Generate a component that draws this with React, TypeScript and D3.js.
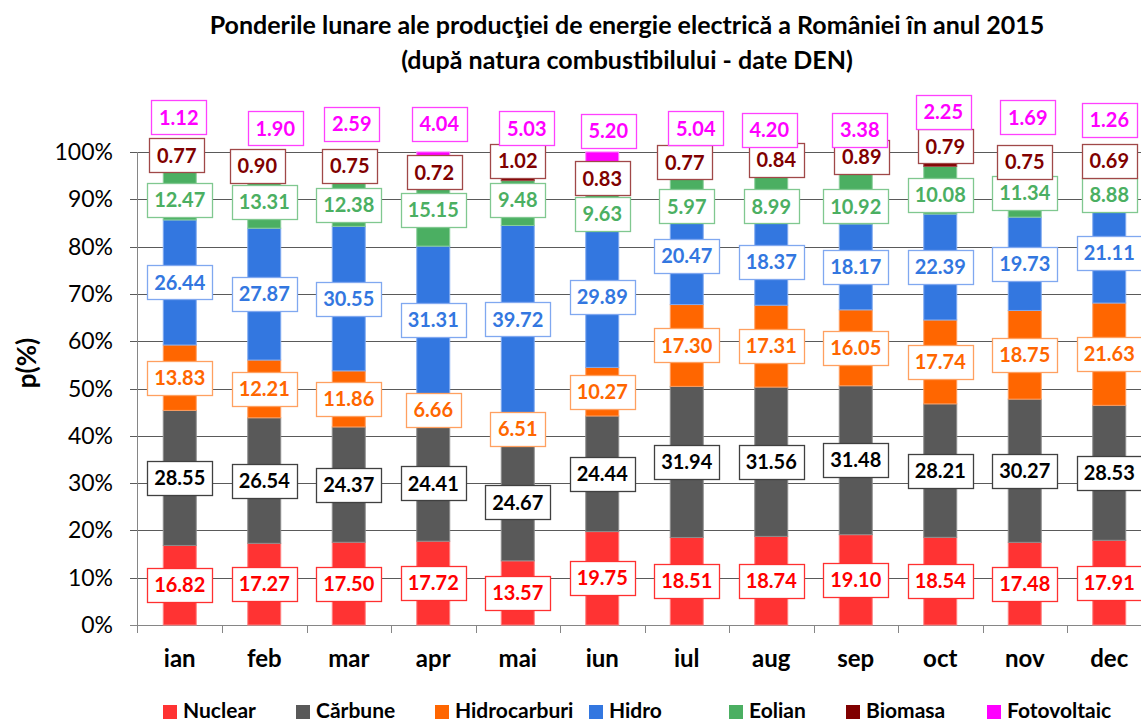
import React from "react";
import * as d3 from "d3";

const months = ["ian", "feb", "mar", "apr", "mai", "iun", "iul", "aug", "sep", "oct", "nov", "dec"];
const nuclear = [16.82, 17.27, 17.5, 17.72, 13.57, 19.75, 18.51, 18.74, 19.1, 18.54, 17.48, 17.91];
const carbune = [28.55, 26.54, 24.37, 24.41, 24.67, 24.44, 31.94, 31.56, 31.48, 28.21, 30.27, 28.53];
const hidrocarburi = [13.83, 12.21, 11.86, 6.66, 6.51, 10.27, 17.3, 17.31, 16.05, 17.74, 18.75, 21.63];
const hidro = [26.44, 27.87, 30.55, 31.31, 39.72, 29.89, 20.47, 18.37, 18.17, 22.39, 19.73, 21.11];
const eolian = [12.47, 13.31, 12.38, 15.15, 9.48, 9.63, 5.97, 8.99, 10.92, 10.08, 11.34, 8.88];
const biomasa = [0.77, 0.9, 0.75, 0.72, 1.02, 0.83, 0.77, 0.84, 0.89, 0.79, 0.75, 0.69];
const fotovoltaic = [1.12, 1.9, 2.59, 4.04, 5.03, 5.2, 5.04, 4.2, 3.38, 2.25, 1.69, 1.26];

const seriesNames = ["Nuclear", "Cărbune", "Hidrocarburi", "Hidro", "Eolian", "Biomasa", "Fotovoltaic"];
const seriesValues = [nuclear, carbune, hidrocarburi, hidro, eolian, biomasa, fotovoltaic];
const yTicks = [0, 10, 20, 30, 40, 50, 60, 70, 80, 90, 100];

// manually placed data labels (as in the original chart), in % units of the y axis
const eolianLabelAt = [89.8, 89.4, 88.8, 87.7, 89.8, 86.9, 88.5, 88.5, 88.5, 90.9, 91.3, 90.9];
const biomasaLabelAt = [99.3, 97.0, 97.1, 95.7, 98.2, 94.4, 97.8, 98.4, 98.9, 101.2, 97.9, 98.2];
const fotovoltaicLabelAt = [107.3, 105.0, 105.9, 105.9, 105.0, 104.5, 105.0, 104.6, 104.6, 108.4, 107.3, 106.8];
const biomasaLabelDx = [-3, -7, 1, 1, 0, 0, -2, 5, 6, 5, 0, 0];
const fotovoltaicLabelDx = [-1, 11, 3, 6, 9, 6, 9, -2, 4, 3, 3, 0];

const barColors = ["#FF3333", "#595959", "#FF6600", "#3377E0", "#4BAF62", "#800000", "#FF00FF"];
const barEdge = ["#FF8080", "#8C8C8C", "#FF9E60", "#80AAF0", "#8ACF9A", "#A04848", "#FF80FF"];
const textColors = ["#FF0000", "#000000", "#FF6600", "#3377E0", "#4BAF62", "#800000", "#FF00FF"];
const boxStroke = ["#FF3030", "#404040", "#FFA060", "#80A8F0", "#80C890", "#A04848", "#FF40FF"];
const legendX = [163, 296, 435, 589, 729, 846, 987];

const FONT = "Lato, 'Open Sans', sans-serif";

export default function App() {
  const W = 1141;
  const H = 722;
  const x = d3
    .scaleBand<string>()
    .domain(months)
    .range([137.5, 1151.5])
    .paddingInner(0.598)
    .paddingOuter(0.299);
  const y = d3.scaleLinear().domain([0, 100]).range([625, 152]);
  const step = x.step();
  const bw = x.bandwidth();

  const table = months.map((m, i) => {
    const row: any = { month: m };
    seriesNames.forEach((s, k) => (row[s] = seriesValues[k][i]));
    return row;
  });
  const stacked = d3.stack<any>().keys(seriesNames)(table);

  const fmt = d3.format(".2f");

  const labels: any[] = [];
  stacked.forEach((layer, k) => {
    layer.forEach((d, i) => {
      let cy: number;
      let dx = 0;
      if (k === 4) cy = y(eolianLabelAt[i]);
      else if (k === 5) {
        cy = y(biomasaLabelAt[i]);
        dx = biomasaLabelDx[i];
      } else if (k === 6) {
        cy = y(fotovoltaicLabelAt[i]);
        dx = fotovoltaicLabelDx[i];
      } else cy = y((d[0] + d[1]) / 2);
      const cx = (x(months[i]) as number) + bw / 2 + dx;
      const txt = fmt(seriesValues[k][i]);
      labels.push({ k, i, cx, cy, txt });
    });
  });

  const plotLeft = 137.5;
  const plotRight = 1151.5;

  return (
    <svg
      width={W}
      height={H}
      style={{ position: "absolute", left: 0, top: 0, background: "#fff" }}
      fontFamily={FONT}
    >
      <rect x={0} y={0} width={W} height={H} fill="#fff" />
      {/* title */}
      <text x={627} y={34} textAnchor="middle" fontSize={25} fontWeight="bold" fill="#000">
        Ponderile lunare ale producţiei de energie electrică a României în anul 2015
      </text>
      <text x={627} y={69} textAnchor="middle" fontSize={25} fontWeight="bold" fill="#000">
        (după natura combustibilului - date DEN)
      </text>

      {/* gridlines */}
      {yTicks.map((t) => (
        <line
          key={"g" + t}
          x1={130}
          x2={plotRight}
          y1={Math.round(y(t)) + 0.5}
          y2={Math.round(y(t)) + 0.5}
          stroke={t === 0 ? "#868686" : "#5a5a5a"}
          strokeWidth={1}
        />
      ))}
      {/* y tick labels */}
      {yTicks.map((t) => (
        <text key={"yt" + t} x={113} y={y(t)} dy="0.35em" textAnchor="end" fontSize={23} fill="#000">
          {t}%
        </text>
      ))}
      {/* y axis line */}
      <line x1={137.5} x2={137.5} y1={y(100)} y2={633} stroke="#868686" strokeWidth={1} />
      {/* category ticks */}
      {months.map((m, i) => (
        <line
          key={"ct" + m}
          x1={Math.round(plotLeft + step * (i + 1)) + 0.5}
          x2={Math.round(plotLeft + step * (i + 1)) + 0.5}
          y1={625}
          y2={633}
          stroke="#868686"
        />
      ))}
      {/* y title */}
      <text
        transform={`translate(36,363) rotate(-90)`}
        textAnchor="middle"
        fontSize={26}
        fontWeight="bold"
        fill="#000"
      >
        p(%)
      </text>

      {/* bars */}
      {stacked.map((layer, k) => (
        <g key={"s" + k} fill={barColors[k]} stroke={barEdge[k]} strokeWidth={1}>
          {layer.map((d, i) => (
            <rect
              key={i}
              x={(x(months[i]) as number) + 0.5}
              y={y(d[1])}
              width={bw - 1}
              height={Math.max(0, y(d[0]) - y(d[1]))}
            />
          ))}
        </g>
      ))}

      {/* category labels */}
      {months.map((m) => (
        <text
          key={"cl" + m}
          x={(x(m) as number) + bw / 2}
          y={667}
          textAnchor="middle"
          fontSize={24}
          fontWeight="bold"
          fill="#000"
        >
          {m}
        </text>
      ))}

      {/* data labels */}
      {labels.map((l) => {
        const w = l.txt.length * 10 + 15;
        const h = 34;
        return (
          <g key={"l" + l.k + "-" + l.i}>
            <rect
              x={Math.round(l.cx - w / 2) + 0.5}
              y={Math.round(l.cy - h / 2) + 0.5}
              width={w}
              height={h}
              fill="#fff"
              stroke={boxStroke[l.k]}
              strokeWidth={1.3}
            />
            <text
              x={l.cx}
              y={l.cy}
              dy="0.36em"
              textAnchor="middle"
              fontSize={20}
              fontWeight="bold"
              fill={textColors[l.k]}
            >
              {l.txt}
            </text>
          </g>
        );
      })}

      {/* legend */}
      {seriesNames.map((s, k) => (
        <g key={"lg" + s}>
          <rect x={legendX[k]} y={705} width={14} height={14} fill={barColors[k]} />
          <text x={legendX[k] + 20} y={718} fontSize={21} fontWeight="bold" fill="#000">
            {s}
          </text>
        </g>
      ))}
    </svg>
  );
}
